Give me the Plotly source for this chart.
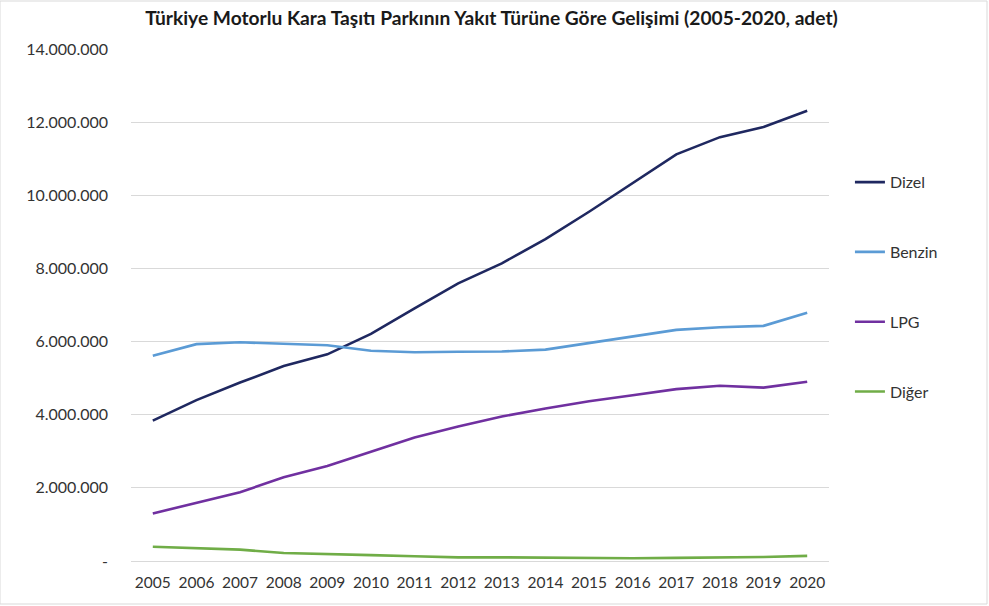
import plotly.graph_objects as go

# Vehicle fleet by fuel type, Türkiye 2005-2020 (units)
years = [str(y) for y in range(2005, 2021)]

dizel = [3840000, 4400000, 4880000, 5330000, 5650000, 6210000, 6910000, 7590000,
         8140000, 8800000, 9550000, 10330000, 11120000, 11590000, 11870000, 12310000]
benzin = [5610000, 5930000, 5980000, 5950000, 5900000, 5750000, 5710000, 5720000,
          5730000, 5780000, 5960000, 6130000, 6320000, 6390000, 6430000, 6790000]
lpg = [1300000, 1580000, 1880000, 2290000, 2600000, 2990000, 3380000, 3680000,
       3950000, 4170000, 4370000, 4530000, 4700000, 4790000, 4740000, 4900000]
diger = [390000, 350000, 310000, 220000, 180000, 160000, 130000, 100000,
         100000, 90000, 75000, 75000, 85000, 95000, 110000, 140000]

series_names = ["Dizel", "Benzin", "LPG", "Diğer"]
series_values = [dizel, benzin, lpg, diger]
series_colors = ["#1F2860", "#5B9BD5", "#7030A0", "#70AD47"]

y_tickvals = [0, 2000000, 4000000, 6000000, 8000000, 10000000, 12000000, 14000000]
y_ticktext = ["-", "2.000.000", "4.000.000", "6.000.000", "8.000.000",
              "10.000.000", "12.000.000", "14.000.000"]

FONT = "Lato, 'Open Sans', sans-serif"
TEXT = "#333333"

fig = go.Figure()
for name, vals, col in zip(series_names, series_values, series_colors):
    fig.add_trace(go.Scatter(
        x=years, y=vals, name=name, mode="lines", legendgroup=name,
        line=dict(color=col, width=2.6),
    ))

fig.update_layout(
    width=989, height=606,
    margin=dict(l=131, r=160, t=49, b=45),
    paper_bgcolor="white", plot_bgcolor="white",
    font=dict(family=FONT, size=16, color=TEXT),
    title=dict(
        text="<b>Türkiye Motorlu Kara Taşıtı Parkının Yakıt Türüne Göre Gelişimi (2005-2020, adet)</b>",
        x=0.497, xanchor="center", y=0.970, yanchor="middle",
        font=dict(family=FONT, size=19.2, color="#1a1a1a"),
    ),
    showlegend=True,
    legend=dict(
        x=1.030, xanchor="left", y=0.773, yanchor="top",
        tracegroupgap=46, font=dict(family=FONT, size=16, color=TEXT),
        bgcolor="rgba(0,0,0,0)",
    ),
    xaxis=dict(
        type="category", range=[-0.5, 15.5], showgrid=False, showline=True,
        linecolor="#d9d9d9", linewidth=1, ticks="",
        tickfont=dict(family=FONT, size=15.5, color=TEXT),
        ticklabelstandoff=7,
    ),
    yaxis=dict(
        range=[0, 14000000], tickvals=y_tickvals, ticktext=y_ticktext,
        showgrid=True, gridcolor="#d9d9d9", gridwidth=1, zeroline=False,
        showline=False, ticks="", ticklabelstandoff=22,
        tickfont=dict(family=FONT, size=16, color=TEXT),
    ),
    shapes=[dict(type="rect", xref="paper", yref="paper",
                 x0=-131 / 698, x1=1 + 158 / 698, y0=-43 / 512, y1=1 + 48 / 512,
                 line=dict(color="#d9d9d9", width=1))],
)

fig.write_html("out.html")
